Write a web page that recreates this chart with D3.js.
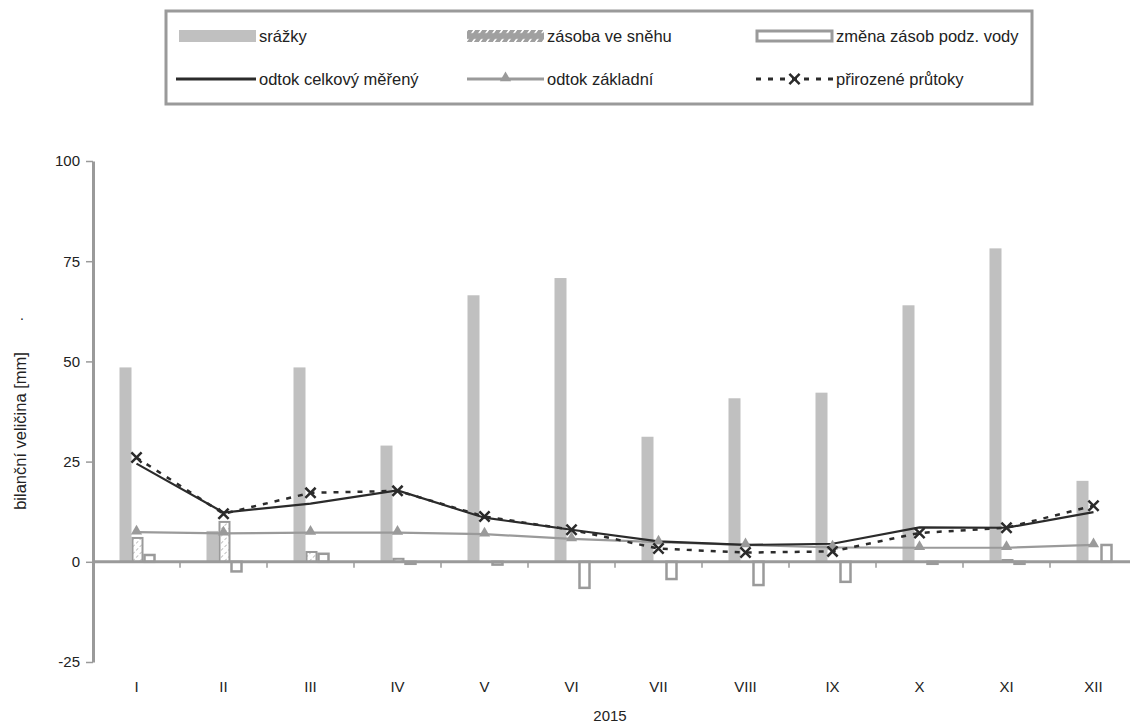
<!DOCTYPE html>
<html>
<head>
<meta charset="utf-8">
<script src="https://cdn.jsdelivr.net/npm/d3@7"></script>
<style>
  body { margin: 0; background: #fff; }
  svg { font-family: "Liberation Sans", Arial, sans-serif; }
</style>
</head>
<body>
<div id="chart"></div>
<script>
// Měsíce a hodnoty (mm)
const months = ["I", "II", "III", "IV", "V", "VI", "VII", "VIII", "IX", "X", "XI", "XII"];
const srazky = [48.5, 7.7, 48.5, 29, 66.5, 70.8, 31.2, 40.8, 42.2, 64, 78.2, 20.2];
const zasoba = [6.2, 10.2, 2.7, 1, 0, 0, 0, 0, 0, 0, 0.7, 0];
const zmena = [1.7, -2.4, 2.0, -0.5, -0.7, -6.5, -4.3, -5.8, -5.0, -0.5, -0.5, 4.2];
const celkovy = [24.5, 12.3, 14.5, 17.8, 11, 8, 5.1, 4.2, 4.5, 8.6, 8.5, 12.4];
const zakladni = [7.4, 7.1, 7.3, 7.3, 6.9, 5.7, 4.9, 4.2, 3.6, 3.5, 3.5, 4.2];
const prirozene = [26, 12, 17.2, 17.7, 11.3, 8, 3.3, 2.3, 2.6, 7.2, 8.5, 14];
const yTicks = [-25, 0, 25, 50, 75, 100];

const width = 1130, height = 723;
const margin = { top: 161, right: -7, bottom: 61, left: 93 };
const gray = "#9a9a9a";

const svg = d3.select("#chart").append("svg")
    .attr("width", width).attr("height", height);

// vzor šrafování
const defs = svg.append("defs");
const hatch = defs.append("pattern")
    .attr("id", "hatch").attr("patternUnits", "userSpaceOnUse")
    .attr("width", 5).attr("height", 5)
    .attr("patternTransform", "rotate(45)");
hatch.append("rect").attr("width", 5).attr("height", 5).attr("fill", "#fff");
hatch.append("line").attr("x1", 0).attr("y1", 0).attr("x2", 0).attr("y2", 5)
    .attr("stroke", "#b0b0b0").attr("stroke-width", 1.6).attr("stroke-dasharray", "3,2");

const hatchLeg = defs.append("pattern")
    .attr("id", "hatchLeg").attr("patternUnits", "userSpaceOnUse")
    .attr("width", 7).attr("height", 12)
    .attr("patternTransform", "skewX(-35)");
hatchLeg.append("rect").attr("width", 7).attr("height", 12).attr("fill", "#a0a0a0");
hatchLeg.append("line").attr("x1", 3).attr("y1", 3).attr("x2", 3).attr("y2", 9)
    .attr("stroke", "#fff").attr("stroke-width", 2);

const x = d3.scaleBand().domain(months).range([margin.left, width - margin.right]);
const y = d3.scaleLinear().domain([-25, 100]).range([height - margin.bottom, margin.top]);

// pozice sloupců uvnitř skupiny
const series = ["srazky", "zasoba", "zmena"];
const inner = d3.scaleBand().domain(series).range([-17, 19]);
const cx = m => x(m) + x.bandwidth() / 2;

// srážky
svg.append("g").selectAll("rect")
    .data(months)
    .enter().append("rect")
    .attr("x", m => cx(m) + inner("srazky"))
    .attr("width", inner.bandwidth())
    .attr("y", (m, i) => y(srazky[i]))
    .attr("height", (m, i) => y(0) - y(srazky[i]))
    .attr("fill", "#c0c0c0");

// zásoba ve sněhu
svg.append("g").selectAll("rect")
    .data(months.filter((m, i) => zasoba[i] > 0))
    .enter().append("rect")
    .attr("x", m => cx(m) + inner("zasoba") + 1)
    .attr("width", inner.bandwidth() - 2)
    .attr("y", m => y(zasoba[months.indexOf(m)]) + 1)
    .attr("height", m => Math.max(0, y(0) - y(zasoba[months.indexOf(m)]) - 1))
    .attr("fill", "url(#hatch)")
    .attr("stroke", gray).attr("stroke-width", 2);

// změna zásob podz. vody
svg.append("g").selectAll("rect")
    .data(months)
    .enter().append("rect")
    .attr("x", m => cx(m) + inner("zmena") + 1)
    .attr("width", inner.bandwidth() - 2)
    .attr("y", (m, i) => y(Math.max(0, zmena[i])))
    .attr("height", (m, i) => Math.abs(y(0) - y(zmena[i])))
    .attr("fill", "#fff")
    .attr("stroke", gray).attr("stroke-width", 2.5);

// osa y
svg.append("g")
    .attr("transform", `translate(${margin.left},0)`)
    .call(d3.axisLeft(y).tickValues(yTicks).tickFormat(d => String(d))
        .tickSize(7).tickSizeOuter(0).tickPadding(6))
    .call(g => g.select(".domain").attr("stroke", gray).attr("stroke-width", 3))
    .call(g => g.selectAll(".tick line").attr("stroke", gray).attr("stroke-width", 1.5))
    .call(g => g.selectAll("text").attr("fill", "#222").style("font-size", "15px"));

// nulová čára s dělicími značkami
svg.append("line")
    .attr("x1", margin.left).attr("x2", width - margin.right)
    .attr("y1", y(0)).attr("y2", y(0))
    .attr("stroke", gray).attr("stroke-width", 3);
svg.append("g").selectAll("line")
    .data(months.slice(1))
    .enter().append("line")
    .attr("x1", m => x(m)).attr("x2", m => x(m))
    .attr("y1", y(0)).attr("y2", y(0) + 6)
    .attr("stroke", gray).attr("stroke-width", 1.5);

// popisky měsíců
svg.append("g")
    .attr("transform", `translate(0,${y(-25)})`)
    .call(d3.axisBottom(x).tickSize(0).tickPadding(19))
    .call(g => g.select(".domain").remove())
    .call(g => g.selectAll("text").attr("fill", "#222").style("font-size", "15px"));

svg.append("text")
    .attr("x", 610).attr("y", 721)
    .attr("text-anchor", "middle").attr("fill", "#222").style("font-size", "15px")
    .text("2015");

svg.append("text")
    .attr("transform", "translate(26,431) rotate(-90)")
    .attr("text-anchor", "middle").attr("fill", "#222").style("font-size", "16.5px")
    .text("bilanční veličina [mm]");
svg.append("text")
    .attr("x", 20).attr("y", 320).attr("fill", "#222").style("font-size", "14px")
    .text(".");

// čáry
const line = d3.line().x((d, i) => cx(months[i])).y(d => y(d));

svg.append("path").datum(zakladni)
    .attr("d", line).attr("fill", "none")
    .attr("stroke", gray).attr("stroke-width", 2.2);

svg.append("path").datum(celkovy)
    .attr("d", line).attr("fill", "none")
    .attr("stroke", "#2b2b2b").attr("stroke-width", 2.2);

svg.append("path").datum(prirozene)
    .attr("d", line).attr("fill", "none")
    .attr("stroke", "#2b2b2b").attr("stroke-width", 2.5)
    .attr("stroke-dasharray", "5,7");

const tri = d3.symbol().type(d3.symbolTriangle).size(55);
svg.append("g").selectAll("path")
    .data(zakladni)
    .enter().append("path")
    .attr("d", tri)
    .attr("transform", (d, i) => `translate(${cx(months[i])},${y(d) - 1})`)
    .attr("fill", gray);

const cross = d3.symbol().type(d3.symbolX).size(70);
svg.append("g").selectAll("path")
    .data(prirozene)
    .enter().append("path")
    .attr("d", cross)
    .attr("transform", (d, i) => `translate(${cx(months[i])},${y(d)})`)
    .attr("fill", "none").attr("stroke", "#2b2b2b").attr("stroke-width", 2.5);

// legenda
const legend = svg.append("g");
legend.append("rect")
    .attr("x", 166).attr("y", 11).attr("width", 866).attr("height", 93)
    .attr("fill", "#fff").attr("stroke", gray).attr("stroke-width", 3);

const legItems = [
    { name: "srážky", col: 0, row: 0, kind: "bar" },
    { name: "zásoba ve sněhu", col: 1, row: 0, kind: "hatch" },
    { name: "změna zásob podz. vody", col: 2, row: 0, kind: "open" },
    { name: "odtok celkový měřený", col: 0, row: 1, kind: "line" },
    { name: "odtok základní", col: 1, row: 1, kind: "tri" },
    { name: "přirozené průtoky", col: 2, row: 1, kind: "dash" }
];
const colX = [179, 467, 756], rowY = [36, 79], swW = 77;

legItems.forEach(d => {
    const g = legend.append("g").attr("transform", `translate(${colX[d.col]},${rowY[d.row]})`);
    if (d.kind === "bar") {
        g.append("rect").attr("x", 0).attr("y", -6).attr("width", swW).attr("height", 12).attr("fill", "#c0c0c0");
    } else if (d.kind === "hatch") {
        g.append("rect").attr("x", 0).attr("y", -6).attr("width", swW).attr("height", 12).attr("fill", "url(#hatchLeg)");
    } else if (d.kind === "open") {
        g.append("rect").attr("x", 1).attr("y", -5).attr("width", swW - 2).attr("height", 10)
            .attr("fill", "#fff").attr("stroke", gray).attr("stroke-width", 3);
    } else if (d.kind === "line") {
        g.append("line").attr("x1", -3).attr("x2", swW).attr("y1", 0).attr("y2", 0)
            .attr("stroke", "#2b2b2b").attr("stroke-width", 3);
    } else if (d.kind === "tri") {
        g.append("line").attr("x1", 0).attr("x2", swW).attr("y1", 0).attr("y2", 0)
            .attr("stroke", gray).attr("stroke-width", 3);
        g.append("path").attr("d", tri).attr("transform", `translate(${swW / 2},-1)`).attr("fill", gray);
    } else {
        g.append("line").attr("x1", 0).attr("x2", swW).attr("y1", 0).attr("y2", 0)
            .attr("stroke", "#2b2b2b").attr("stroke-width", 3).attr("stroke-dasharray", "5,7");
        g.append("path").attr("d", cross).attr("transform", `translate(${swW / 2},0)`)
            .attr("fill", "none").attr("stroke", "#2b2b2b").attr("stroke-width", 2.5);
    }
    g.append("text").attr("x", swW + 3).attr("y", 5.5)
        .attr("fill", "#222").style("font-size", "16.5px")
        .text(d.name);
});
</script>
</body>
</html>
